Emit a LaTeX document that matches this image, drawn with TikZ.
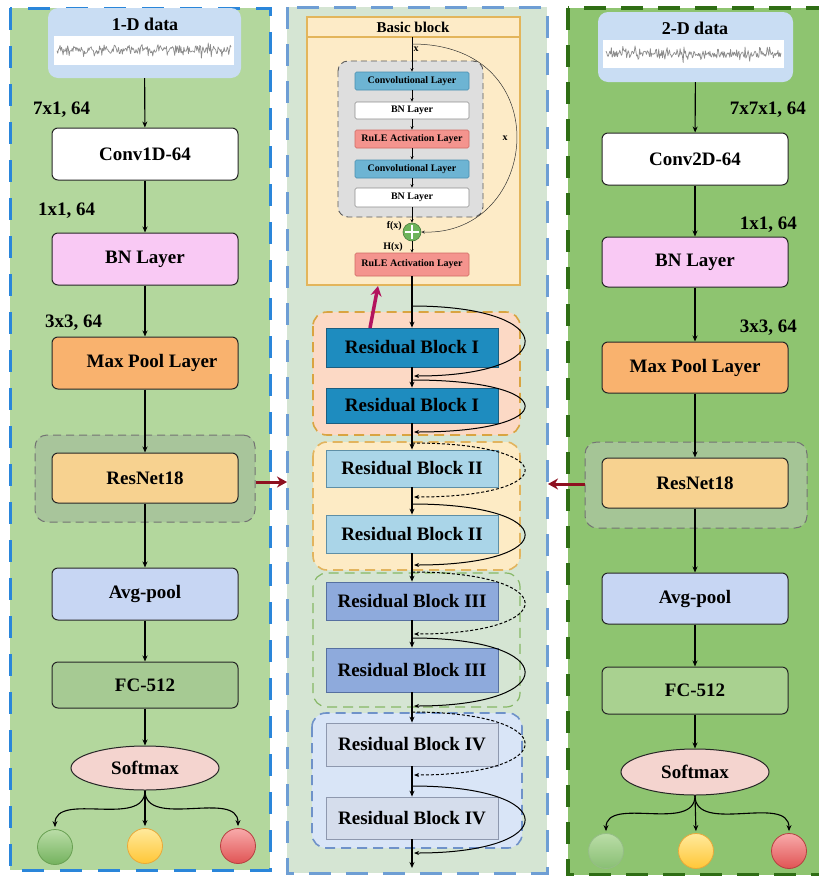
\documentclass[tikz,border=0pt]{standalone}
\usepackage{fontspec}
\setmainfont{Liberation Serif}
\usetikzlibrary{arrows.meta,shapes.geometric}

% panel and layer colours
\definecolor{panelL}{HTML}{B3D79D}
\definecolor{panelC}{HTML}{D5E5D3}
\definecolor{panelR}{HTML}{8EC470}
\definecolor{edgeL}{HTML}{2A86DA}
\definecolor{edgeC}{HTML}{6E9ED4}
\definecolor{edgeR}{HTML}{2F6E15}
\definecolor{dataBox}{HTML}{C9DDF3}
\definecolor{bnPink}{HTML}{F9C9F4}
\definecolor{poolOr}{HTML}{F9B26E}
\definecolor{resOr}{HTML}{F7D290}
\definecolor{avgBl}{HTML}{C7D6F3}
\definecolor{fcL}{HTML}{A6CA93}
\definecolor{fcR}{HTML}{A9D190}
\definecolor{softPk}{HTML}{F4D4CF}
\definecolor{grpL}{HTML}{A8C59B}
\definecolor{grpR}{HTML}{A5C596}
\definecolor{bbFill}{HTML}{FDEBC7}
\definecolor{bbEdge}{HTML}{E3B55B}
\definecolor{innerG}{HTML}{DEDEDE}
\definecolor{convBl}{HTML}{6DB4D3}
\definecolor{convEd}{HTML}{4A8FB0}
\definecolor{reluR}{HTML}{F4948E}
\definecolor{reluEd}{HTML}{D06A64}
\definecolor{plusG}{HTML}{6DB35A}
\definecolor{gIf}{HTML}{FCD9C5}
\definecolor{gIe}{HTML}{D9A441}
\definecolor{gIIf}{HTML}{FDEBC5}
\definecolor{gIIe}{HTML}{E2B45E}
\definecolor{gIIIe}{HTML}{86B765}
\definecolor{gIVf}{HTML}{D9E5F7}
\definecolor{gIVe}{HTML}{6F92C9}
\definecolor{rbI}{HTML}{1E8CBF}
\definecolor{rbIe}{HTML}{1B5E80}
\definecolor{rbII}{HTML}{AAD5E8}
\definecolor{rbIIe}{HTML}{5E8FA6}
\definecolor{rbIII}{HTML}{8EAADC}
\definecolor{rbIIIe}{HTML}{5670A0}
\definecolor{rbIV}{HTML}{D5DDEC}
\definecolor{rbIVe}{HTML}{8E98AE}
\definecolor{linkRed}{HTML}{8E1020}
\definecolor{linkMag}{HTML}{B3145E}
\definecolor{balGt}{HTML}{BADDA7}
\definecolor{balGb}{HTML}{74B25E}
\definecolor{balGe}{HTML}{68A052}
\definecolor{balYt}{HTML}{FFEA9C}
\definecolor{balYb}{HTML}{FFC637}
\definecolor{balYe}{HTML}{E8A93A}
\definecolor{balRt}{HTML}{F8AAAA}
\definecolor{balRb}{HTML}{E05454}
\definecolor{balRe}{HTML}{B54040}

\newcommand\bfz[1]{\fontsize{#1}{#1}\selectfont\bfseries}

\begin{document}
\begin{tikzpicture}[x=1pt,y=-1pt,
  lay/.style={draw=black!85, line width=1pt, rounded corners=6pt, minimum width=186pt, inner sep=0pt, font=\bfz{19}},
  lbl/.style={inner sep=0pt, font=\bfz{19}},
  arr/.style={-{Stealth[length=6pt,width=5pt]}, line width=1.1pt},
  arrs/.style={-{Stealth[length=3.5pt,width=3pt]}, line width=0.6pt},
  grp/.style={draw=black!55, dash pattern=on 8pt off 5pt, line width=1pt, rounded corners=12pt, inner sep=0pt},
  il/.style={line width=0.6pt, rounded corners=1.5pt, minimum width=114pt, inner sep=0pt, font=\bfz{10}},
  rb/.style={line width=0.8pt, minimum width=172pt, inner sep=0pt, font=\bfz{19}},
  rgrp/.style={dash pattern=on 10pt off 6pt, line width=1.6pt, rounded corners=14pt},
  skip/.style={-{Stealth[length=5pt,width=4pt]}, line width=1pt},
  skipd/.style={skip, dash pattern=on 3pt off 2pt},
  bigarr/.style={-{Stealth[length=10pt,width=11pt]}, line width=3pt},
  ball/.style={circle, minimum size=35pt, inner sep=0pt, line width=0.8pt},
  sig/.style={black!45, line width=0.7pt, line join=round}
]
\useasboundingbox (0,0) rectangle (819,876);

% ---------------- panels ----------------
\fill[panelL] (10,8) rectangle (270,870);
\draw[edgeL, line width=3pt, dash pattern=on 22pt off 16pt] (10,8) rectangle (270,870);
\fill[panelC] (287,7) rectangle (547,873);
\draw[edgeC, line width=3pt, dash pattern=on 22pt off 15pt] (287,7) rectangle (547,873);
\fill[panelR] (568,8) rectangle (830,875);
\draw[edgeR, line width=3.5pt, dash pattern=on 22pt off 15pt] (568,8) rectangle (830,875);

% ---------------- 1-D branch ----------------
\node[fill=dataBox, rounded corners=10pt, minimum width=193pt, minimum height=70pt, inner sep=0pt] (data1) at (144.5,43) {};
\node[lbl, font=\bfz{18}] (t1) at (145,24) {1-D data};
\fill[white] (54,36) rectangle (234,65);
\pgfmathsetseed{11}
\draw[sig] plot[domain=57:231, samples=230] (\x, {50 + 3.5*rand + 10*rand*rand*rand});

\node[lay, fill=white, minimum height=52pt] (conv1) at (145,154) {Conv1D-64};
\node[lay, fill=bnPink, minimum height=52pt] (bn1) at (145,259) {BN Layer};
\node[lay, fill=poolOr, minimum height=52pt] (mp1) at (145,363) {\hspace*{14pt}Max Pool Layer};
\node[grp, fill=grpL, minimum width=220pt, minimum height=87pt] (rg1) at (145,478.5) {};
\node[lay, fill=resOr, minimum height=50pt] (res1) at (145,478) {ResNet18};
\node[lay, fill=avgBl, minimum height=52pt] (avg1) at (145,594) {Avg-pool};
\node[lay, fill=fcL, minimum height=46pt] (fc1) at (145,685) {FC-512};
\node[ellipse, draw=black!85, line width=1pt, fill=softPk, minimum width=148pt, minimum height=44pt, inner sep=0pt, font=\bfz{19}] (soft1) at (145,768) {Softmax};

\node[lbl, anchor=west] (k1a) at (33,110) {7x1, 64};
\node[lbl, anchor=west] (k1b) at (38,211) {1x1, 64};
\node[lbl, anchor=west] (k1c) at (45,323) {3x3, 64};

\node[ball, draw=balGe, top color=balGt, bottom color=balGb] (g1) at (55,847) {};
\node[ball, draw=balYe, top color=balYt, bottom color=balYb] (y1) at (145,846) {};
\node[ball, draw=balRe, top color=balRt, bottom color=balRb] (r1) at (238,846) {};

\draw[arr] (data1) -- (conv1);
\draw[arr] (conv1) -- (bn1);
\draw[arr] (bn1) -- (mp1);
\draw[arr] (mp1) -- (res1);
\draw[arr] (res1) -- (avg1);
\draw[arr] (avg1) -- (fc1);
\draw[arr] (fc1) -- (soft1);
\draw[arr, shorten >=2pt] (soft1.south) to[out=-90,in=90] (g1.north);
\draw[arr, shorten >=2pt] (soft1.south) -- (y1.north);
\draw[arr, shorten >=2pt] (soft1.south) to[out=-90,in=90] (r1.north);

% ---------------- 2-D branch ----------------
\node[fill=dataBox, rounded corners=10pt, minimum width=195pt, minimum height=70pt, inner sep=0pt] (data2) at (695.5,47) {};
\node[lbl, font=\bfz{18}] (t2) at (695,28) {2-D data};
\fill[white] (603,40) rectangle (784,68);
\pgfmathsetseed{23}
\draw[sig] plot[domain=606:781, samples=230] (\x, {54 + 3.5*rand + 10*rand*rand*rand});

\node[lay, fill=white, minimum height=52pt] (conv2) at (695,159) {Conv2D-64};
\node[lay, fill=bnPink, minimum height=50pt] (bn2) at (695,262) {BN Layer};
\node[lay, fill=poolOr, minimum height=51pt] (mp2) at (695,367.5) {Max Pool Layer};
\node[grp, fill=grpR, minimum width=222pt, minimum height=86pt] (rg2) at (696,485) {};
\node[lay, fill=resOr, minimum height=50pt] (res2) at (695,483) {ResNet18};
\node[lay, fill=avgBl, minimum height=51pt] (avg2) at (695,598.5) {Avg-pool};
\node[lay, fill=fcR, minimum height=47pt] (fc2) at (695,690.5) {FC-512};
\node[ellipse, draw=black!85, line width=1pt, fill=softPk, minimum width=148pt, minimum height=46pt, inner sep=0pt, font=\bfz{19}] (soft2) at (695,772) {Softmax};

\node[lbl, anchor=east] (k2a) at (806,110) {7x7x1, 64};
\node[lbl, anchor=east] (k2b) at (797,225) {1x1, 64};
\node[lbl, anchor=east] (k2c) at (797,328) {3x3, 64};

\node[ball, draw=balGe!70, top color=balGt, bottom color=balGb!70!balGt] (g2) at (606,851) {};
\node[ball, draw=balYe, top color=balYt, bottom color=balYb] (y2) at (696,851) {};
\node[ball, draw=balRe, top color=balRt, bottom color=balRb] (r2) at (789,851) {};

\draw[arr] (data2) -- (conv2);
\draw[arr] (conv2) -- (bn2);
\draw[arr] (bn2) -- (mp2);
\draw[arr] (mp2) -- (res2);
\draw[arr] (res2) -- (avg2);
\draw[arr] (avg2) -- (fc2);
\draw[arr] (fc2) -- (soft2);
\draw[arr, shorten >=2pt] (soft2.south) to[out=-90,in=90] (g2.north);
\draw[arr, shorten >=2pt] (soft2.south) -- (y2.north);
\draw[arr, shorten >=2pt] (soft2.south) to[out=-90,in=90] (r2.north);

% ---------------- basic block ----------------
\filldraw[fill=bbFill, draw=bbEdge, line width=1.3pt] (307,17) rectangle (520,285);
\draw[bbEdge, line width=1.3pt] (307,37) -- (520,37);
\node[inner sep=0pt, font=\bfz{15}] (bbt) at (413,27) {Basic block};
\filldraw[fill=innerG, draw=black!65, line width=0.9pt, dash pattern=on 6pt off 4pt, rounded corners=10pt] (338,61) rectangle (483,217);

\node[il, fill=convBl, draw=convEd, minimum height=18pt] (bc1) at (412,81) {Convolutional Layer};
\node[il, fill=white, draw=black!45, minimum height=17pt] (bn3) at (412,110.5) {BN Layer};
\node[il, fill=reluR, draw=reluEd, minimum height=18pt] (ru1) at (412,139) {RuLE Activation Layer};
\node[il, fill=convBl, draw=convEd, minimum height=18pt] (bc2) at (412,169) {Convolutional Layer};
\node[il, fill=white, draw=black!45, minimum height=19pt] (bn4) at (412,197.5) {BN Layer};
\node[circle, fill=plusG, draw=plusG!70!black, line width=0.6pt, minimum size=18pt, inner sep=0pt] (plus) at (412,232) {};
\draw[white, line width=2.2pt] (405,232) -- (419,232) (412,225) -- (412,239);
\node[il, fill=reluR, draw=reluEd, minimum height=23pt] (ru2) at (412,264.5) {RuLE Activation Layer};

\coordinate (bin) at (412,37);
\coordinate (bxs) at (412,44);
\draw[arrs] (bin) -- (bc1);
\draw[arrs] (bc1) -- (bn3);
\draw[arrs] (bn3) -- (ru1);
\draw[arrs] (ru1) -- (bc2);
\draw[arrs] (bc2) -- (bn4);
\draw[arrs] (bn4) -- (plus);
\draw[arrs] (plus) -- (ru2);
\draw[arrs, line width=0.5pt, black!80] (bxs) .. controls (560,44) and (540,236) .. (plus.east);
\node[inner sep=0pt, font=\bfz{10}] (xa) at (416,49) {x};
\node[inner sep=0pt, font=\bfz{10}] (xb) at (505,138) {x};
\node[inner sep=0pt, font=\bfz{10}, anchor=east] (fx) at (402,226) {f(x)};
\node[inner sep=0pt, font=\bfz{10}, anchor=east] (hx) at (403,247) {H(x)};

% ---------------- residual stages ----------------
\filldraw[fill=gIf, draw=gIe, rgrp] (313,312) rectangle (520,435);
\filldraw[fill=gIIf, draw=gIIe, rgrp] (313,442) rectangle (520,570);
\draw[draw=gIIIe, rgrp, line width=1.2pt] (313,573) rectangle (520,707);
\filldraw[fill=gIVf, draw=gIVe, rgrp] (312,713) rectangle (522,848);

\node[rb, fill=rbI, draw=rbIe, minimum height=39pt] (rb1a) at (412,347.5) {Residual Block I};
\node[rb, fill=rbI, draw=rbIe, minimum height=35pt] (rb1b) at (412,405.5) {Residual Block I};
\node[rb, fill=rbII, draw=rbIIe, minimum height=37pt] (rb2a) at (412,468.5) {Residual Block II};
\node[rb, fill=rbII, draw=rbIIe, minimum height=38pt] (rb2b) at (412,534) {Residual Block II};
\node[rb, fill=rbIII, draw=rbIIIe, minimum height=38pt] (rb3a) at (412,601) {Residual Block III};
\node[rb, fill=rbIII, draw=rbIIIe, minimum height=44pt] (rb3b) at (412,670) {Residual Block III};
\node[rb, fill=rbIV, draw=rbIVe, minimum height=43pt] (rb4a) at (412,744.5) {Residual Block IV};
\node[rb, fill=rbIV, draw=rbIVe, minimum height=42pt] (rb4b) at (412,818) {Residual Block IV};
\coordinate (out) at (412,868);

\draw[arr] (ru2) -- (rb1a);
\draw[arr] (rb1a) -- (rb1b);
\draw[arr] (rb1b) -- (rb2a);
\draw[arr] (rb2a) -- (rb2b);
\draw[arr] (rb2b) -- (rb3a);
\draw[arr] (rb3a) -- (rb3b);
\draw[arr] (rb3b) -- (rb4a);
\draw[arr] (rb4a) -- (rb4b);
\draw[arr] (rb4b) -- (out);

% shortcut connections
\coordinate (s1) at (412,306); \coordinate (e1) at (414,376);
\coordinate (s2) at (412,380); \coordinate (e2) at (414,432);
\coordinate (s3) at (412,443); \coordinate (e3) at (414,497);
\coordinate (s4) at (412,504); \coordinate (e4) at (414,565);
\coordinate (s5) at (412,572); \coordinate (e5) at (414,634);
\coordinate (s6) at (412,638); \coordinate (e6) at (414,706);
\coordinate (s7) at (412,712); \coordinate (e7) at (414,775);
\coordinate (s8) at (412,786); \coordinate (e8) at (414,853);
\draw[skip]  (s1) .. controls (562,306) and (562,376) .. (e1);
\draw[skip]  (s2) .. controls (562,380) and (562,432) .. (e2);
\draw[skipd] (s3) .. controls (562,443) and (562,497) .. (e3);
\draw[skip]  (s4) .. controls (562,504) and (562,565) .. (e4);
\draw[skipd] (s5) .. controls (562,572) and (562,634) .. (e5);
\draw[skip]  (s6) .. controls (562,638) and (562,706) .. (e6);
\draw[skipd] (s7) .. controls (562,712) and (562,775) .. (e7);
\draw[skip]  (s8) .. controls (562,786) and (562,853) .. (e8);

% links between the panels
\coordinate (mgs) at (370,328);
\coordinate (mgt) at (378,286);
\draw[bigarr, linkMag, line width=3.5pt] (mgs) -- (mgt);
\coordinate (lin) at (287,482);
\coordinate (rin) at (548,484);
\draw[bigarr, linkRed] (rg1.east |- lin) -- (lin);
\draw[bigarr, linkRed] (rg2.west |- rin) -- (rin);
\end{tikzpicture}
\end{document}
